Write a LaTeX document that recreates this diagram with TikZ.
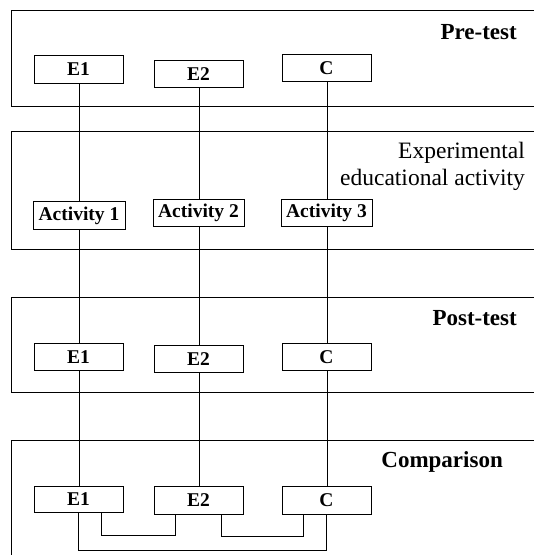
\documentclass[tikz,border=0pt]{standalone}
\usepackage{fontspec}
\setmainfont{Liberation Serif}
\usetikzlibrary{calc}
\begin{document}
\begin{tikzpicture}[x=1pt,y=-1pt,
  phase/.style={draw,line width=1pt},
  group/.style={draw,line width=0.9pt,fill=white,inner sep=0pt,
    minimum width=89pt,minimum height=27.5pt,
    font=\bfseries\fontsize{19.5}{22}\selectfont},
  act/.style={group,minimum width=91pt},
  title/.style={anchor=base east,inner sep=0pt,
    font=\bfseries\fontsize{23}{27}\selectfont},
  link/.style={line width=0.9pt}]
\clip (0,0) rectangle (534,555);
\fill[white] (0,0) rectangle (534,555);

% phase frames (open on the right)
\draw[phase] (545,10) -- (11,10) -- (11,106) -- (545,106);
\draw[phase] (545,131) -- (11,131) -- (11,249) -- (545,249);
\draw[phase] (545,297) -- (11,297) -- (11,392) -- (545,392);
\draw[phase] (545,440) -- (11,440) -- (11,560);

% phase titles
\node[title] (tpre)  at (517,39)  {Pre-test};
\node[anchor=north east,inner sep=0pt,align=right,
      font=\fontsize{23.5}{27}\selectfont] (tact) at (525,142)
      {Experimental\\educational activity};
\node[title] (tpost) at (517,325) {Post-test};
\node[title] (tcmp)  at (503,467) {Comparison};

% vertical links (drawn first, groups sit on top)
\draw[link] (79,83) coordinate (l1a) -- (79,486) coordinate (l1b);
\draw[link] (199,88) -- (199,487);
\draw[link] (327,82) -- (327,487);

% pre-test groups
\node[group] (pe1) at (78.5,69.5) {E1};
\node[group] (pe2) at (198.5,74)  {E2};
\node[group] (pc)  at (326.5,68)  {C};

% activities
\node[act,minimum width=92pt] (a1) at (79,215.5)  {Activity 1};
\node[act] (a2) at (198.5,213) {Activity 2};
\node[act] (a3) at (326.5,213) {Activity 3};

% post-test groups
\node[group] (qe1) at (78.5,357)  {E1};
\node[group] (qe2) at (198.5,359) {E2};
\node[group] (qc)  at (326.5,357) {C};

% comparison groups
\node[group,minimum height=26pt] (ce1) at (78.5,499)   {E1};
\node[group] (ce2) at (198.5,500.5) {E2};
\node[group] (cc)  at (326.5,500.5) {C};

% comparison links
\draw[link] ([xshift=-22pt]ce1.south east) -- ++(0,23) -| ([xshift=22pt]ce2.south west);
\draw[link] ([xshift=-22pt]ce2.south east) -- ++(0,22) -| ([xshift=22pt]cc.south west);
\draw[link] (ce1.south) -- ++(0,38) -| (cc.south);
\end{tikzpicture}
\end{document}
